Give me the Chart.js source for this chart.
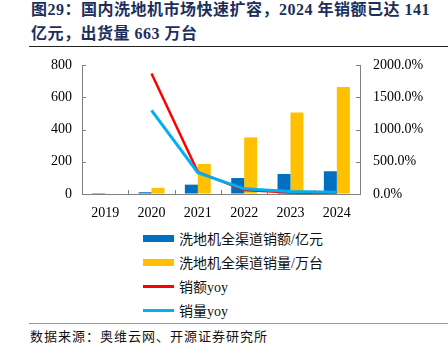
<!DOCTYPE html>
<html>
<head>
<meta charset="utf-8">
<script src="https://cdn.jsdelivr.net/npm/chart.js@4"></script>
<style>
  html, body { margin:0; padding:0; background:#fff; }
  #wrap { position:relative; width:448px; height:356px; overflow:hidden; }
  .title { position:absolute; left:31px; font-family:"Liberation Serif","Noto Sans CJK SC",serif; font-weight:bold; font-size:16px; color:#1c2f5c; letter-spacing:0.5px; white-space:nowrap; line-height:20px; }
  #rule1 { position:absolute; left:29px; top:46px; width:419px; height:0; border-top:1.3px solid #222; }
  #rule2 { position:absolute; left:29px; top:323px; width:419px; height:0; border-top:1.5px solid #999; }
  #source { position:absolute; left:30px; top:327px; font-family:"Noto Sans CJK SC",sans-serif; font-size:13px; letter-spacing:1px; color:#111; white-space:nowrap; line-height:18px; }
  #chartBox { position:absolute; left:0; top:50px; width:448px; height:175px; }
  #legend { position:absolute; left:143px; top:226px; }
  .li { height:24px; display:flex; align-items:center; font-family:"Liberation Serif","Noto Sans CJK SC",serif; font-size:14px; color:#111; white-space:nowrap; }
  .mk { width:31px; margin-right:5px; display:inline-block; }
</style>
</head>
<body>
<div id="wrap">
  <div class="title" style="top:0px;">图29：国内洗地机市场快速扩容，2024 年销额已达 141</div>
  <div class="title" style="top:24px;">亿元，出货量 663 万台</div>
  <div id="rule1"></div>
  <div id="chartBox"><canvas id="c"></canvas></div>
  <div id="legend"></div>
  <div id="rule2"></div>
  <div id="source">数据来源：奥维云网、开源证券研究所</div>
</div>
<script>
const years = ['2019', '2020', '2021', '2022', '2023', '2024'];
const salesAmount = [0.6, 11, 58, 99, 124, 141];      // 洗地机全渠道销额/亿元
const salesVolume = [2.7, 38, 186, 351, 505, 663];    // 洗地机全渠道销量/万台
const amountYoy = [null, 1868, 340, 62, 22, 14];      // 销额yoy (%)
const volumeYoy = [null, 1297, 330, 80, 40, 28];      // 销量yoy (%)
const leftTicks = [0, 200, 400, 600, 800];
const rightTicks = [0, 500, 1000, 1500, 2000];

const labelNames = ['洗地机全渠道销额/亿元', '洗地机全渠道销量/万台', '销额yoy', '销量yoy'];

const innerTicks = {
  id: 'innerTicks',
  afterDraw(chart) {
    const ctx = chart.ctx;
    const a = chart.chartArea;
    const y = chart.scales.y, y1 = chart.scales.y1, x = chart.scales.x;
    ctx.save();
    ctx.strokeStyle = '#808080';
    ctx.lineWidth = 1;
    ctx.beginPath();
    leftTicks.forEach(v => { const p = Math.round(y.getPixelForValue(v)) + 0.5; ctx.moveTo(a.left, p); ctx.lineTo(a.left + 4, p); });
    rightTicks.forEach(v => { const p = Math.round(y1.getPixelForValue(v)) + 0.5; ctx.moveTo(a.right - 4, p); ctx.lineTo(a.right, p); });
    for (let i = 1; i < years.length; i++) {
      const p = Math.round((x.getPixelForValue(i - 1) + x.getPixelForValue(i)) / 2) + 0.5;
      ctx.moveTo(p, a.bottom); ctx.lineTo(p, a.bottom - 4);
    }
    ctx.stroke();
    ctx.restore();
  }
};

const tickFont = { family: 'Liberation Serif', size: 14 };

const chart = new Chart(document.getElementById('c'), {
  type: 'bar',
  data: {
    labels: years,
    datasets: [
      { type: 'bar', label: labelNames[0], data: salesAmount, backgroundColor: '#0070C0', yAxisID: 'y', order: 3, categoryPercentage: 0.56, barPercentage: 1.0 },
      { type: 'bar', label: labelNames[1], data: salesVolume, backgroundColor: '#FFC000', yAxisID: 'y', order: 3, categoryPercentage: 0.56, barPercentage: 1.0 },
      { type: 'line', label: labelNames[2], data: amountYoy, borderColor: '#FF0000', backgroundColor: '#FF0000', borderWidth: 2.5, pointRadius: 0, tension: 0, yAxisID: 'y1', order: 2 },
      { type: 'line', label: labelNames[3], data: volumeYoy, borderColor: '#00B0F0', backgroundColor: '#00B0F0', borderWidth: 3, pointRadius: 0, tension: 0, yAxisID: 'y1', order: 1 }
    ]
  },
  options: {
    responsive: true,
    maintainAspectRatio: false,
    animation: false,
    layout: { padding: { top: 15, left: 0, right: 0, bottom: 0 } },
    plugins: { legend: { display: false }, tooltip: { enabled: false } },
    scales: {
      x: {
        grid: { display: true, drawOnChartArea: false, drawTicks: false },
        border: { display: true, color: '#808080', width: 1 },
        ticks: { font: tickFont, color: '#000', padding: 11, maxRotation: 0 },
        afterFit(s) { s.height = 31; }
      },
      y: {
        position: 'left', min: 0, max: 800,
        grid: { display: true, drawOnChartArea: false, drawTicks: false },
        border: { display: true, color: '#808080', width: 1 },
        ticks: { font: tickFont, color: '#000', padding: 10, stepSize: 200 },
        afterFit(s) { s.width = 82; s.paddingTop = 0; s.paddingBottom = 0; }
      },
      y1: {
        position: 'right', min: 0, max: 2000,
        grid: { display: true, drawOnChartArea: false, drawTicks: false },
        border: { display: true, color: '#808080', width: 1 },
        ticks: { font: tickFont, color: '#000', padding: 13, stepSize: 500, callback: v => v.toFixed(1) + '%' },
        afterFit(s) { s.width = 88; s.paddingTop = 0; s.paddingBottom = 0; }
      }
    }
  },
  plugins: [innerTicks]
});

// HTML legend built from the chart's datasets (vertical list)
const legendEl = document.getElementById('legend');
chart.data.datasets.forEach(ds => {
  const row = document.createElement('div');
  row.className = 'li';
  const mk = document.createElement('span');
  mk.className = 'mk';
  const isLine = ds.type === 'line';
  mk.style.height = isLine ? '3px' : '7px';
  mk.style.background = isLine ? ds.borderColor : ds.backgroundColor;
  const tx = document.createElement('span');
  tx.textContent = ds.label;
  row.appendChild(mk);
  row.appendChild(tx);
  legendEl.appendChild(row);
});
</script>
</body>
</html>
